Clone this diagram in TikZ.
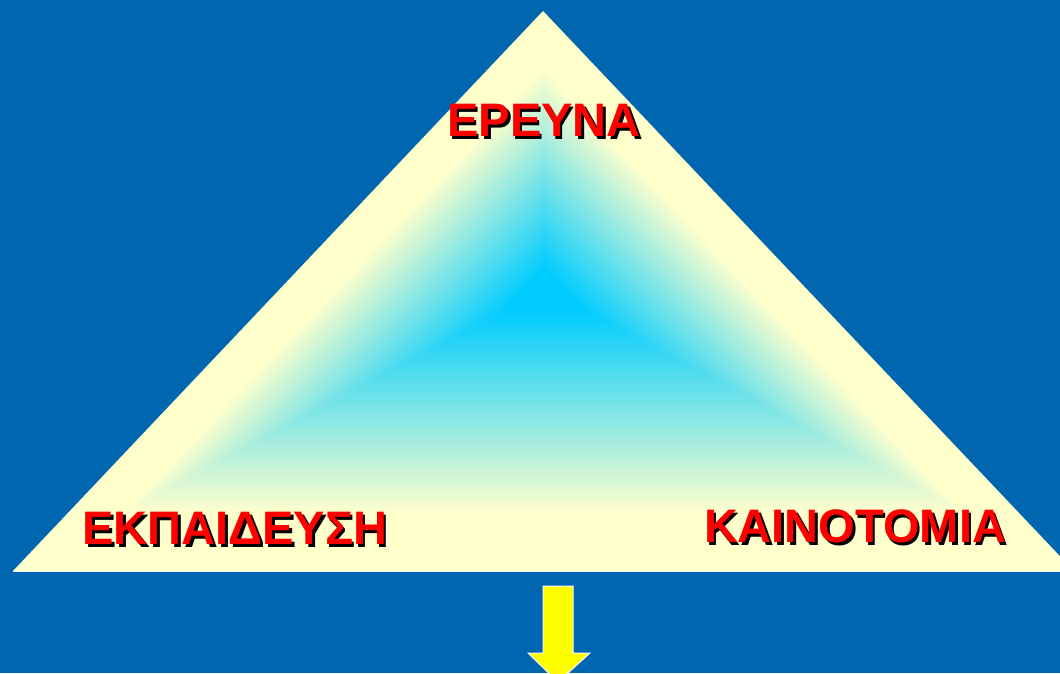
\documentclass[tikz,border=0pt]{standalone}
\usepackage{fontspec}
\setmainfont{Liberation Sans}
\usetikzlibrary{calc}
\definecolor{bgblue}{HTML}{0066B0}
\definecolor{paleyel}{HTML}{FFFFCC}
\definecolor{cyanc}{HTML}{00CCFF}
\definecolor{redt}{HTML}{FF0000}
\definecolor{arrowyel}{HTML}{FFFF00}
\newcommand{\shadowtxt}[1]{\makebox[0pt][l]{\hspace{2.5pt}\raisebox{-2.5pt}{\textcolor{black}{#1}}}\textcolor{redt}{#1}}
\tikzset{
  lbl/.style={font=\bfseries\fontsize{47}{47}\selectfont, inner sep=0pt, anchor=center},
  arrowshape/.style={fill=arrowyel, draw=white, line width=1pt, line join=miter}
}
\begin{document}
\begin{tikzpicture}[x=1pt,y=-1pt]
\useasboundingbox (0,0) rectangle (1060,673);
\fill[bgblue] (0,0) rectangle (1060,673);
\begin{scope}
\clip (0,0) rectangle (1060,673);
\coordinate (C) at (545,290);
\coordinate (T) at (543,11);
\coordinate (L) at (13,571);
\coordinate (R) at (1074,571);
\draw[white, line width=1pt] (L) -- (R);
\foreach \i in {0,...,79} {
  \pgfmathsetmacro{\s}{1-\i/80}
  \pgfmathsetmacro{\p}{max(0,min(100,100*(\s-0.08)/0.72))}
  \fill[paleyel!\p!cyanc]
    ($(C)!\s!(T)$) -- ($(C)!\s!(L)$) -- ($(C)!\s!(R)$) -- cycle;
}
\end{scope}
\node[lbl] (ereuna) at (544,122) {\shadowtxt{ΕΡΕΥΝΑ}};
\node[lbl] (ekp) at (235,530) {\shadowtxt{ΕΚΠΑΙΔΕΥΣΗ}};
\node[lbl] (kain) at (855,528) {\shadowtxt{ΚΑΙΝΟΤΟΜΙΑ}};
\draw[arrowshape] (543,586) -- (573,586) -- (573,653) -- (590,653) -- (558,682) -- (528,653) -- (543,653) -- cycle;
\end{tikzpicture}
\end{document}
